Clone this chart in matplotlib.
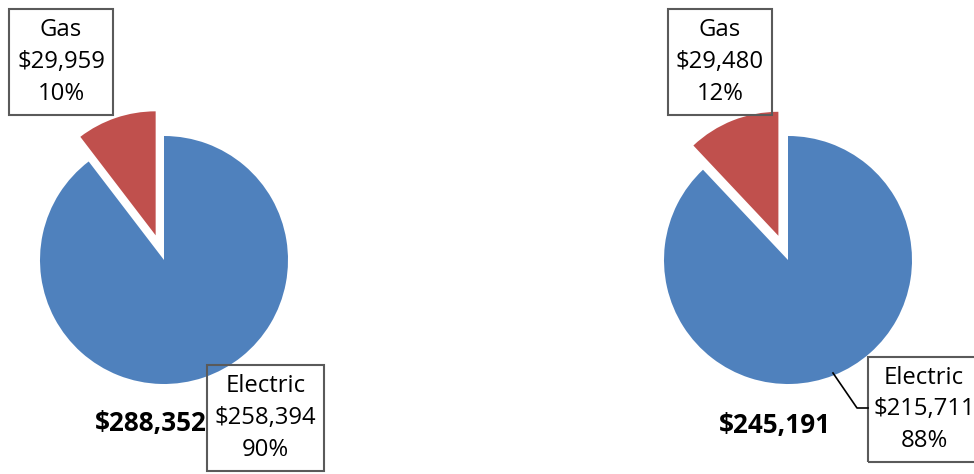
import matplotlib
matplotlib.use("Agg")
import matplotlib.pyplot as plt
from matplotlib.patches import Rectangle

categories = ["Gas", "Electric"]
left_values = [29959, 258394]
right_values = [29480, 215711]
left_total = "$288,352"
right_total = "$245,191"
colors = ["#C0504D", "#4F81BD"]

W, H = 974, 474
plt.rcParams['font.family'] = ['Open Sans', 'DejaVu Sans']
fig = plt.figure(figsize=(W / 100, H / 100), dpi=100)
ax = fig.add_axes([0, 0, 1, 1])

def Y(y):
    return H - y

FS = 17.2
R = 124
EDGE = "#5a5a5a"

def draw_pie(values, cx, cy, total, gas_box, elec_box, total_pos, leader=None):
    ax.pie(values, colors=colors, startangle=90, counterclock=True,
           explode=[0.21 * R, 0.0], center=(cx, Y(cy)), radius=R,
           wedgeprops=dict(linewidth=0), frame=True)
    s = sum(values)
    for name, v, box in zip(categories, values, [gas_box, elec_box]):
        x0, y0, x1, y1 = box[:4]
        ax.add_patch(Rectangle((x0, Y(y1)), x1 - x0, y1 - y0, facecolor='none',
                               edgecolor=EDGE, linewidth=1.5, zorder=5, clip_on=False))
        label = f"{name}\n${v:,}\n{round(100 * v / s):.0f}%"
        tx = box[4] if len(box) > 4 else (x0 + x1) / 2
        ax.text(tx, Y((y0 + y1) / 2), label, ha='center', va='center',
                fontsize=FS, linespacing=1.42, zorder=6, color='black')
    ax.text(total_pos[0], Y(total_pos[1]), total, ha='center', va='center',
            fontsize=18.8, fontweight='bold', zorder=4)
    if leader is not None:
        xs, ys = zip(*leader)
        ax.plot(xs, [Y(v) for v in ys], color='black', linewidth=1.2, zorder=5)

draw_pie(left_values, 164, 260, left_total,
         (9, 9, 113, 115), (207, 365, 324, 471), (151, 424))
draw_pie(right_values, 788, 260, right_total,
         (668, 9, 772, 115), (868, 357, 986, 462, 924), (775, 426),
         leader=[(833, 373), (857, 408), (868, 408)])

ax.set_xlim(0, W)
ax.set_ylim(0, H)
ax.set_aspect('equal')
ax.axis('off')
fig.savefig("out.png", dpi=100)
